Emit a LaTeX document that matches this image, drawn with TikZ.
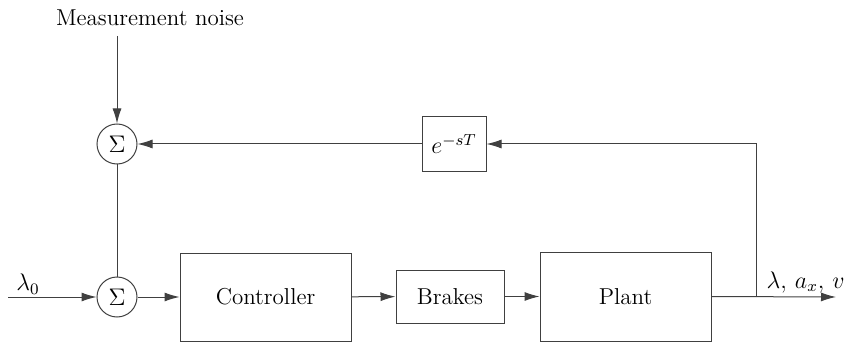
\documentclass[tikz,border=0pt]{standalone}
\usetikzlibrary{arrows.meta}
\begin{document}
\begin{tikzpicture}[x=0.5pt,y=-0.5pt,
  font=\fontsize{11.5}{14}\selectfont,
  line/.style={draw=black!75,line width=0.5pt},
  arr/.style={line,-{Latex[length=7.5pt,width=4.5pt]}},
  blk/.style={draw=black!75,line width=0.5pt,inner sep=0pt},
  sumn/.style={circle,draw=black!75,line width=0.5pt,minimum size=20pt,inner sep=0pt}]
\useasboundingbox (0,0) rectangle (846,342);
\node (noise) at (150,18) {Measurement noise};
\coordinate (ntop) at (117,36);
\node[sumn] (s1) at (117,144) {$\Sigma$};
\node[sumn] (s2) at (117,297) {$\Sigma$};
\coordinate (in) at (8,297);
\node (l0) at (28,284) {$\lambda_0$};
\node[blk,minimum width=85.5pt,minimum height=44pt] (ctrl) at (265.5,297) {Controller};
\node[blk,minimum width=54pt,minimum height=26.5pt] (brk) at (450,296.5) {Brakes};
\node[blk,minimum width=85.5pt,minimum height=44.5pt] (plant) at (625.5,296.5) {Plant};
\node[blk,minimum width=32pt,minimum height=27pt] (dly) at (454,144) {$e^{-sT}$};
\coordinate (br) at (756,297);
\coordinate (out) at (836,297);
\coordinate (cr) at (756,144);
\node[anchor=east,inner sep=0pt] (lout) at (845,282) {$\lambda,\,a_x,\,v$};
\draw[arr] (ntop) -- (s1);
\draw[line] (s1) -- (s2);
\draw[arr] (in) -- (s2);
\draw[arr] (s2) -- (ctrl);
\draw[arr] (ctrl) -- (brk);
\draw[arr] (brk) -- (plant);
\draw[arr] (plant.east) -- (out);
\draw[arr] (br) -- (cr) -- (dly);
\draw[arr] (dly) -- (s1);
\end{tikzpicture}
\end{document}
